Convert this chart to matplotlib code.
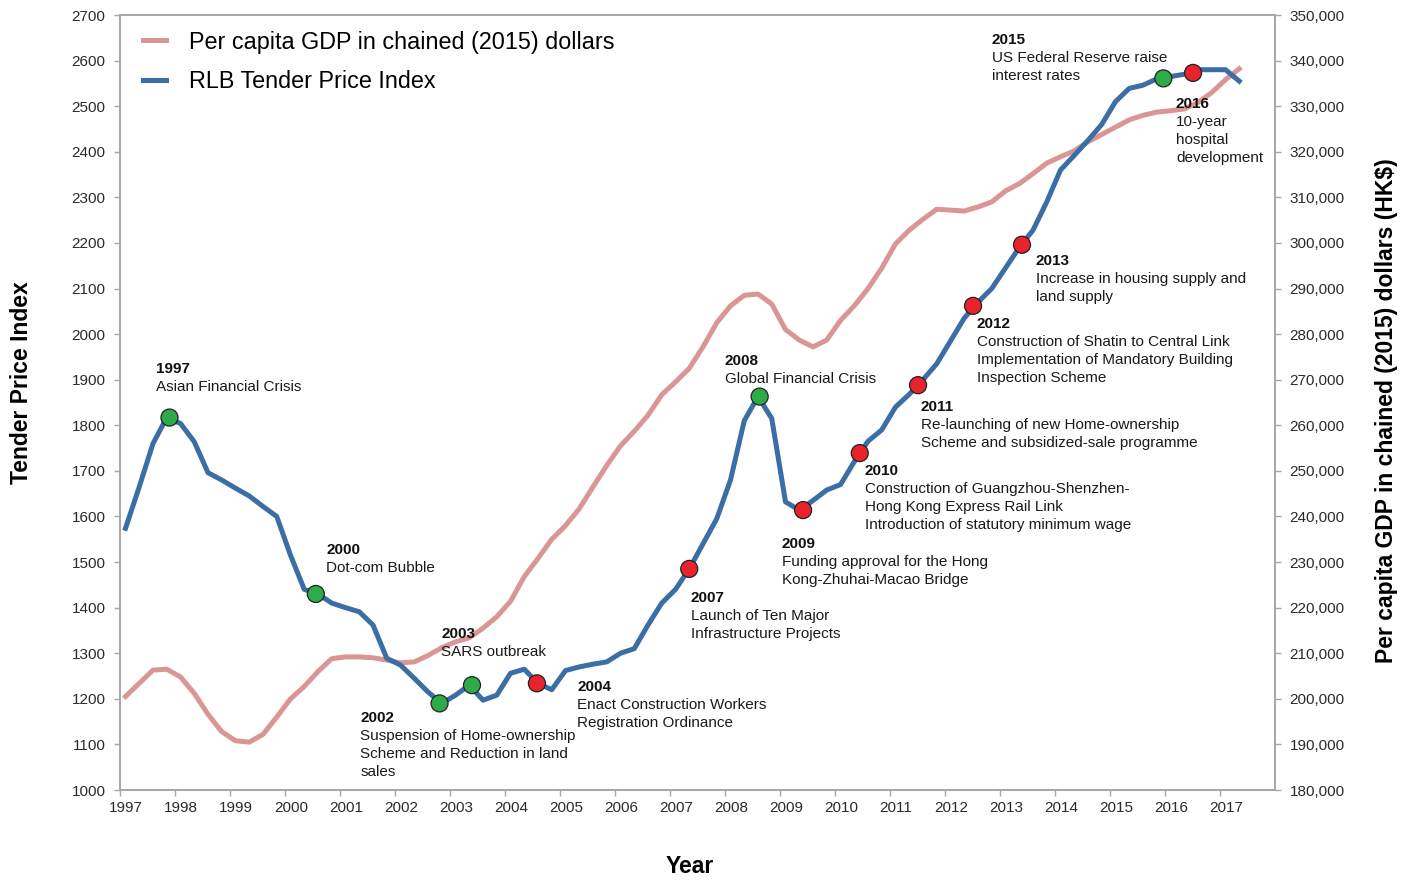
import numpy as np
import matplotlib
matplotlib.use("Agg")
import matplotlib.pyplot as plt
import matplotlib.transforms as mtransforms
from matplotlib.ticker import FuncFormatter

plt.rcParams['font.family'] = ['Liberation Sans', 'DejaVu Sans']

# quarterly readings, first point 1997.1
quarters = 1997.1 + 0.25 * np.arange(82)

tpi = [1574, 1665, 1760, 1817, 1804, 1764, 1696, 1680, 1662, 1645,
       1622, 1600, 1515, 1440, 1430, 1410, 1400, 1391, 1362, 1289,
       1274, 1245, 1215, 1190, 1208, 1230, 1197, 1208, 1256, 1265,
       1234, 1220, 1262, 1270, 1276, 1281, 1300, 1310, 1362, 1410,
       1440, 1485, 1540, 1595, 1680, 1810, 1863, 1815, 1632, 1614,
       1635, 1658, 1670, 1720, 1765, 1790, 1840, 1868, 1900, 1935,
       1985, 2035, 2070, 2100, 2145, 2190, 2228, 2290, 2360, 2392,
       2425, 2460, 2510, 2539, 2546, 2560, 2565, 2570, 2580, 2580,
       2580, 2555]

gdp = [200500, 203400, 206300, 206500, 204800, 201200, 196600, 192800, 190800, 190500,
       192200, 196000, 200000, 202700, 206000, 208800, 209200, 209200, 209000, 208500,
       207900, 208100, 209500, 211200, 212500, 213400, 215500, 218000, 221400, 226800,
       230800, 235000, 238000, 241700, 246500, 251200, 255500, 258700, 262200, 266700,
       269500, 272500, 277200, 282500, 286200, 288500, 288800, 286600, 281000, 278700,
       277200, 278700, 283000, 286200, 290000, 294500, 299800, 302800, 305200, 307400,
       307200, 307000, 307900, 309000, 311400, 313000, 315200, 317500, 318900, 320200,
       322200, 323800, 325400, 327000, 328000, 328700, 329000, 329400, 330800, 333000,
       335800, 338200]

# events: x, index value, good(green)/bad(red)
ev_x = [1997.90, 2000.56, 2002.81, 2003.40, 2004.58, 2007.35, 2008.63,
        2009.42, 2010.45, 2011.51, 2012.51, 2013.40, 2015.97, 2016.51]
ev_y = [1817, 1430, 1190, 1230, 1234, 1485, 1863,
        1614, 1739, 1888, 2062, 2196, 2561, 2573]
ev_c = ['g', 'g', 'g', 'g', 'r', 'r', 'g', 'r', 'r', 'r', 'r', 'r', 'g', 'r']

# annotation text: year, body, label position (x year, index value)
notes = [
    ("1997", "Asian Financial Crisis", 1997.655, 1923),
    ("2000", "Dot-com Bubble", 2000.749, 1526),
    ("2003", "SARS outbreak", 2002.842, 1342),
    ("2002", "Suspension of Home-ownership\nScheme and Reduction in land\nsales", 2001.368, 1158),
    ("2004", "Enact Construction Workers\nRegistration Ordinance", 2005.317, 1226),
    ("2007", "Launch of Ten Major\nInfrastructure Projects", 2007.373, 1421),
    ("2008", "Global Financial Crisis", 2007.992, 1941),
    ("2009", "Funding approval for the Hong\nKong-Zhuhai-Macao Bridge", 2009.029, 1540),
    ("2010", "Construction of Guangzhou-Shenzhen-\nHong Kong Express Rail Link\nIntroduction of statutory minimum wage", 2010.540, 1700),
    ("2011", "Re-launching of new Home-ownership\nScheme and subsidized-sale programme", 2011.559, 1840),
    ("2012", "Construction of Shatin to Central Link\nImplementation of Mandatory Building\nInspection Scheme", 2012.578, 2022),
    ("2013", "Increase in housing supply and\nland supply", 2013.652, 2160),
    ("2015", "US Federal Reserve raise\ninterest rates", 2012.851, 2645),
    ("2016", "10-year\nhospital\ndevelopment", 2016.199, 2505),
]

years = list(range(1997, 2018))

blue = '#3b6ea5'
pink = '#d99694'
grey = '#a6a6a6'
tickcol = '#2b2b2b'

fig = plt.figure(figsize=(14.1, 8.81), dpi=100)
ax = fig.add_axes([120/1410, 91/881, 1155/1410, 775/881])
ax2 = ax.twinx()
ax.set_zorder(ax2.get_zorder() + 1)
ax.patch.set_visible(False)

l_gdp, = ax2.plot(quarters, gdp, color=pink, lw=3.6, solid_joinstyle='round',
                  label='Per capita GDP in chained (2015) dollars')
l_tpi, = ax.plot(quarters, tpi, color=blue, lw=3.6, solid_joinstyle='round',
                 label='RLB Tender Price Index')
cols = ['#2eaa48' if c == 'g' else '#e8232b' for c in ev_c]
ax.scatter(ev_x, ev_y, s=150, c=cols, edgecolors='#222222', linewidths=0.9, zorder=5)

ax.set_xlim(1997, 2018)
ax.set_ylim(1000, 2700)
ax2.set_ylim(180000, 350000)
ax.set_xticks(years)
ax.set_yticks(range(1000, 2701, 100))
ax2.set_yticks(range(180000, 350001, 10000))
ax2.yaxis.set_major_formatter(FuncFormatter(lambda v, p: f"{int(v):,}"))

for a in (ax, ax2):
    for s in a.spines.values():
        s.set_color(grey)
        s.set_linewidth(1.2)
    a.tick_params(colors=grey, labelcolor=tickcol, labelsize=11, length=4, width=1)
ax.tick_params(axis='y', pad=6.4)
ax2.tick_params(axis='y', pad=6.4)
ax.tick_params(axis='x', pad=4)

shift = mtransforms.ScaledTranslation(6/100, 0, fig.dpi_scale_trans)
for lab in ax.get_xticklabels():
    lab.set_transform(lab.get_transform() + shift)

ax.set_ylabel('Tender Price Index', fontsize=16.5, fontweight='bold', labelpad=28)
ax.yaxis.label.set_y(0.526)
ax2.set_ylabel('Per capita GDP in chained (2015) dollars (HK$)', fontsize=16.5,
               fontweight='bold', labelpad=22)
ax2.yaxis.label.set_y(0.49)
ax.set_xlabel('Year', fontsize=16.5, fontweight='bold', labelpad=29)
ax.xaxis.label.set_x(0.4935)

for yr, body, tx, ty in notes:
    ax.text(tx, ty, yr, fontsize=11, fontweight='bold', color='#111111',
            va='center', ha='left', zorder=6)
    for k, line in enumerate(body.split('\n')):
        ax.annotate(line, xy=(tx, ty), xytext=(0, -13.0 * (k + 1)),
                    textcoords='offset points', fontsize=11, color='#1a1a1a',
                    va='center', ha='left', zorder=6)

leg = ax.legend(handles=[l_gdp, l_tpi], loc='upper left', bbox_to_anchor=(0.020, 0.98),
                frameon=False, fontsize=16.8, handlelength=1.0, handletextpad=0.95,
                labelspacing=0.72, borderpad=0, borderaxespad=0)
for h in leg.get_lines():
    h.set_linewidth(3.6)

fig.savefig('out.png', dpi=100)
